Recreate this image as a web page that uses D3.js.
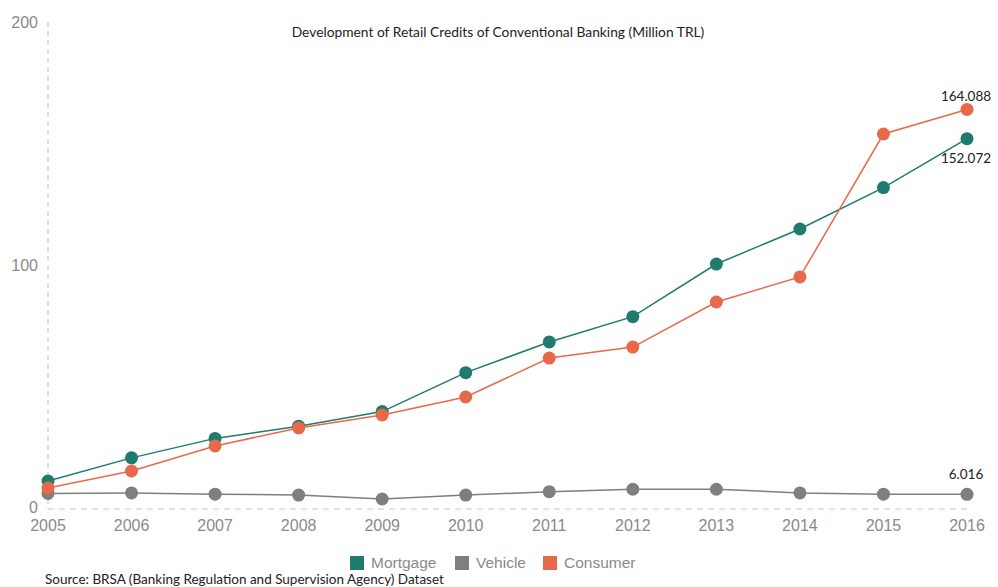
<!DOCTYPE html>
<html><head><meta charset="utf-8">
<script src="https://cdn.jsdelivr.net/npm/d3@7"></script>
<style>body{margin:0;background:#fff}svg{display:block}</style>
</head><body><svg id="c" width="998" height="587"></svg>
<script>
const years = [2005,2006,2007,2008,2009,2010,2011,2012,2013,2014,2015,2016];
const mortgage = [11.5,21,29,34,40,56,68.6,79,100.6,115,132,152.072];
const vehicle = [6.4,6.6,6.1,5.7,4.1,5.7,7.1,8.1,8.1,6.6,6.1,6.016];
const consumer = [8.6,15.6,25.9,33.3,38.6,46,62,66.5,85,95.3,154,164.088];
const yTicks = [0,100,200];
const seriesNames = ["Mortgage","Vehicle","Consumer"];
const colors = ["#1e7b6d","#7f7f7f","#e8694a"];
const title = "Development of Retail Credits of Conventional Banking (Million TRL)";
const source = "Source: BRSA (Banking Regulation and Supervision Agency) Dataset";

const svg = d3.select("#c");
const x = d3.scaleLinear().domain([2005,2016]).range([48,967]);
const y = d3.scaleLinear().domain([0,200]).range([509,22]);

// y axis dashed line
svg.append("line").attr("x1",48).attr("x2",48).attr("y1",y(200)).attr("y2",y(0))
  .attr("stroke","#bbb").attr("stroke-dasharray","5,4").attr("stroke-width",1);
// zero baseline dashed
svg.append("line").attr("x1",48).attr("x2",967).attr("y1",y(0)).attr("y2",y(0))
  .attr("stroke","#c8c8c8").attr("stroke-dasharray","6,5").attr("stroke-width",1.2);

svg.selectAll(".yt").data(yTicks).join("text")
  .attr("x",38).attr("y",d=>y(d)-(d===0?2:0)).attr("dy","0.35em").attr("text-anchor","end")
  .attr("font-family","Liberation Sans, Arial, sans-serif").attr("font-size",16).attr("fill","#8a8a8a")
  .text(d=>d);
svg.selectAll(".xt").data(years).join("text")
  .attr("x",d=>x(d)).attr("y",525).attr("dy","0.35em").attr("text-anchor","middle")
  .attr("font-family","Liberation Sans, Arial, sans-serif").attr("font-size",16).attr("fill","#8a8a8a")
  .text(d=>d);

svg.append("text").attr("x",498).attr("y",32).attr("dy","0.35em").attr("text-anchor","middle")
  .attr("font-family","Lato, sans-serif").attr("font-size",13.8).attr("fill","#222").text(title);

const data = [mortgage, vehicle, consumer];
const line = d3.line().x((d,i)=>x(years[i])).y(d=>y(d));
data.forEach((vals,k)=>{
  const g = svg.append("g");
  g.append("path").datum(vals).attr("d",line).attr("fill","none")
    .attr("stroke",colors[k]).attr("stroke-width",1.5);
  g.selectAll("circle").data(vals).join("circle")
    .attr("cx",(d,i)=>x(years[i])).attr("cy",d=>y(d)).attr("r",6.5).attr("fill",colors[k]);
});

// end labels
const endLbl = [
  {v: consumer[11], dy: -13},
  {v: mortgage[11], dy: 20},
  {v: vehicle[11], dy: -20}
];
svg.selectAll(".el").data(endLbl).join("text")
  .attr("x",x(2016)-1).attr("y",d=>y(d.v)+d.dy).attr("dy","0.35em").attr("text-anchor","middle")
  .attr("font-family","Lato, sans-serif").attr("font-size",13.5).attr("fill","#222")
  .text(d=>d.v.toFixed(3));

// legend
const legX = [350,455,543];
const lg = svg.selectAll(".lg").data(seriesNames).join("g")
  .attr("transform",(d,i)=>`translate(${legX[i]},563)`);
lg.append("rect").attr("x",0).attr("y",-7).attr("width",14).attr("height",14).attr("fill",(d,i)=>colors[i]);
lg.append("text").attr("x",21).attr("y",0).attr("dy","0.35em")
  .attr("font-family","Liberation Sans, Arial, sans-serif").attr("font-size",15.5).attr("fill","#8a8a8a").text(d=>d);

svg.append("text").attr("x",45).attr("y",579).attr("dy","0.35em")
  .attr("font-family","Lato, sans-serif").attr("font-size",13.5).attr("fill","#222").text(source);
</script></body></html>
